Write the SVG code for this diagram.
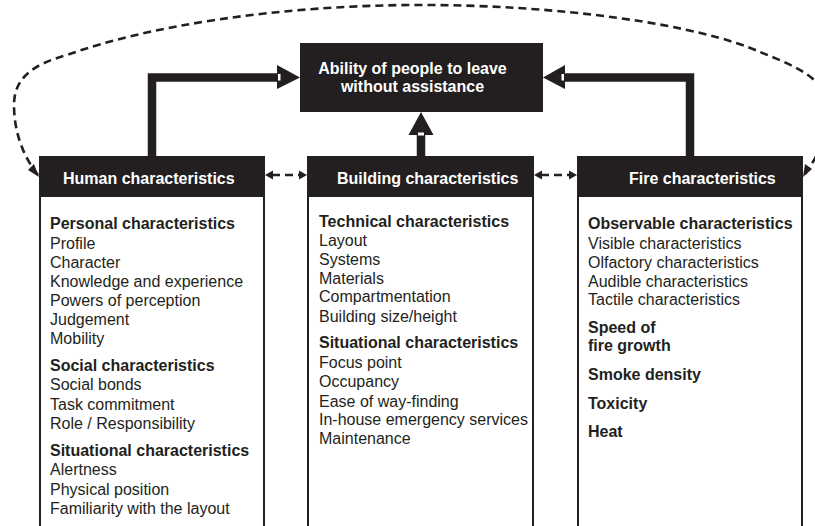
<svg xmlns="http://www.w3.org/2000/svg" width="815" height="526" viewBox="0 0 815 526">
<style>
text{font-family:"Liberation Sans",Arial,Helvetica,sans-serif;font-size:16px;fill:#231f20}
.b{font-weight:bold}
.w{fill:#ffffff;font-weight:bold}
.hdr{fill:#231f20}
.body{fill:#ffffff;stroke:#231f20;stroke-width:2}
.thick{fill:none;stroke:#231f20;stroke-width:8.5;stroke-linejoin:miter;stroke-linecap:butt}
.dash{fill:none;stroke:#231f20;stroke-width:2.6;stroke-dasharray:8 5}
.ah{fill:#231f20}
.notch{fill:#ffffff}
</style>
<rect width="815" height="526" fill="#ffffff"/>
<g id="connectors">
  <path class="thick" d="M152,156 V77.5 H278"/>
  <polygon class="ah" points="277,65 300,77.5 277,89"/>
  <rect class="notch" x="278" y="74" width="2.5" height="6.5"/>
  <path class="thick" d="M690,156 V77.5 H564"/>
  <polygon class="ah" points="565,65 543,77.5 565,89"/>
  <rect class="notch" x="561.5" y="74" width="2.5" height="6.5"/>
  <path class="thick" d="M421,156 V134"/>
  <polygon class="ah" points="408.5,135 421,112 433.5,135"/>
  <rect class="notch" x="418" y="132.5" width="6" height="3"/>
  <path class="dash" d="M38,175 C22,155 14,130 14,105 C14,80 30,65 67,55 C150,25 280,6 410,5 C560,4 700,25 760,52 C800,68 830,80 828,115 C827,140 815,160 805,174"/>
  <polygon class="ah" points="39,177 28,170 34,164"/>
  <polygon class="ah" points="803,177 805,164 812,169"/>
  <path class="dash" d="M272,175 H300" stroke-dasharray="5 6 9 6 5"/>
  <polygon class="ah" points="265,175 273,170.5 273,179.5"/>
  <polygon class="ah" points="307,175 299,170.5 299,179.5"/>
  <path class="dash" d="M541,175 H570" stroke-dasharray="5 6.5 9 6.5 5"/>
  <polygon class="ah" points="534,175 542,170.5 542,179.5"/>
  <polygon class="ah" points="577,175 569,170.5 569,179.5"/>
</g>
<g id="ability">
  <rect class="hdr" x="300" y="43" width="243" height="69"/>
  <text class="w" x="412.5" y="73.5" text-anchor="middle">Ability of people to leave</text>
  <text class="w" x="412.5" y="92" text-anchor="middle">without assistance</text>
</g>
<g id="human">
  <rect class="body" x="40" y="196" width="224" height="340"/>
  <rect class="hdr" x="39" y="156" width="226" height="41"/>
  <text class="w" x="63" y="184">Human characteristics</text>
  <text class="b" x="50" y="229">Personal characteristics</text>
  <text x="50" y="248.5">Profile</text>
  <text x="50" y="268">Character</text>
  <text x="50" y="287">Knowledge and experience</text>
  <text x="50" y="306">Powers of perception</text>
  <text x="50" y="325">Judgement</text>
  <text x="50" y="344">Mobility</text>
  <text class="b" x="50" y="370.5">Social characteristics</text>
  <text x="50" y="390">Social bonds</text>
  <text x="50" y="409.5">Task commitment</text>
  <text x="50" y="429">Role / Responsibility</text>
  <text class="b" x="50" y="455.5">Situational characteristics</text>
  <text x="50" y="475">Alertness</text>
  <text x="50" y="494.5">Physical position</text>
  <text x="50" y="514">Familiarity with the layout</text>
</g>
<g id="building">
  <rect class="body" x="308" y="196" width="225" height="340"/>
  <rect class="hdr" x="307" y="156" width="227" height="41"/>
  <text class="w" x="337" y="184">Building characteristics</text>
  <text class="b" x="319" y="227">Technical characteristics</text>
  <text x="319" y="246">Layout</text>
  <text x="319" y="265">Systems</text>
  <text x="319" y="283.5">Materials</text>
  <text x="319" y="302">Compartmentation</text>
  <text x="319" y="321.5">Building size/height</text>
  <text class="b" x="319" y="348">Situational characteristics</text>
  <text x="319" y="368">Focus point</text>
  <text x="319" y="387">Occupancy</text>
  <text x="319" y="406.5">Ease of way-finding</text>
  <text x="319" y="425">In-house emergency services</text>
  <text x="319" y="443.5">Maintenance</text>
</g>
<g id="fire">
  <rect class="body" x="578" y="196" width="224" height="340"/>
  <rect class="hdr" x="577" y="156" width="226" height="41"/>
  <text class="w" x="629" y="184">Fire characteristics</text>
  <text class="b" x="588" y="229">Observable characteristics</text>
  <text x="588" y="249">Visible characteristics</text>
  <text x="588" y="268">Olfactory characteristics</text>
  <text x="588" y="286.5">Audible characteristics</text>
  <text x="588" y="305">Tactile characteristics</text>
  <text class="b" x="588" y="332.5">Speed of</text>
  <text class="b" x="588" y="350.5">fire growth</text>
  <text class="b" x="588" y="380">Smoke density</text>
  <text class="b" x="588" y="408.5">Toxicity</text>
  <text class="b" x="588" y="437">Heat</text>
</g>
</svg>
